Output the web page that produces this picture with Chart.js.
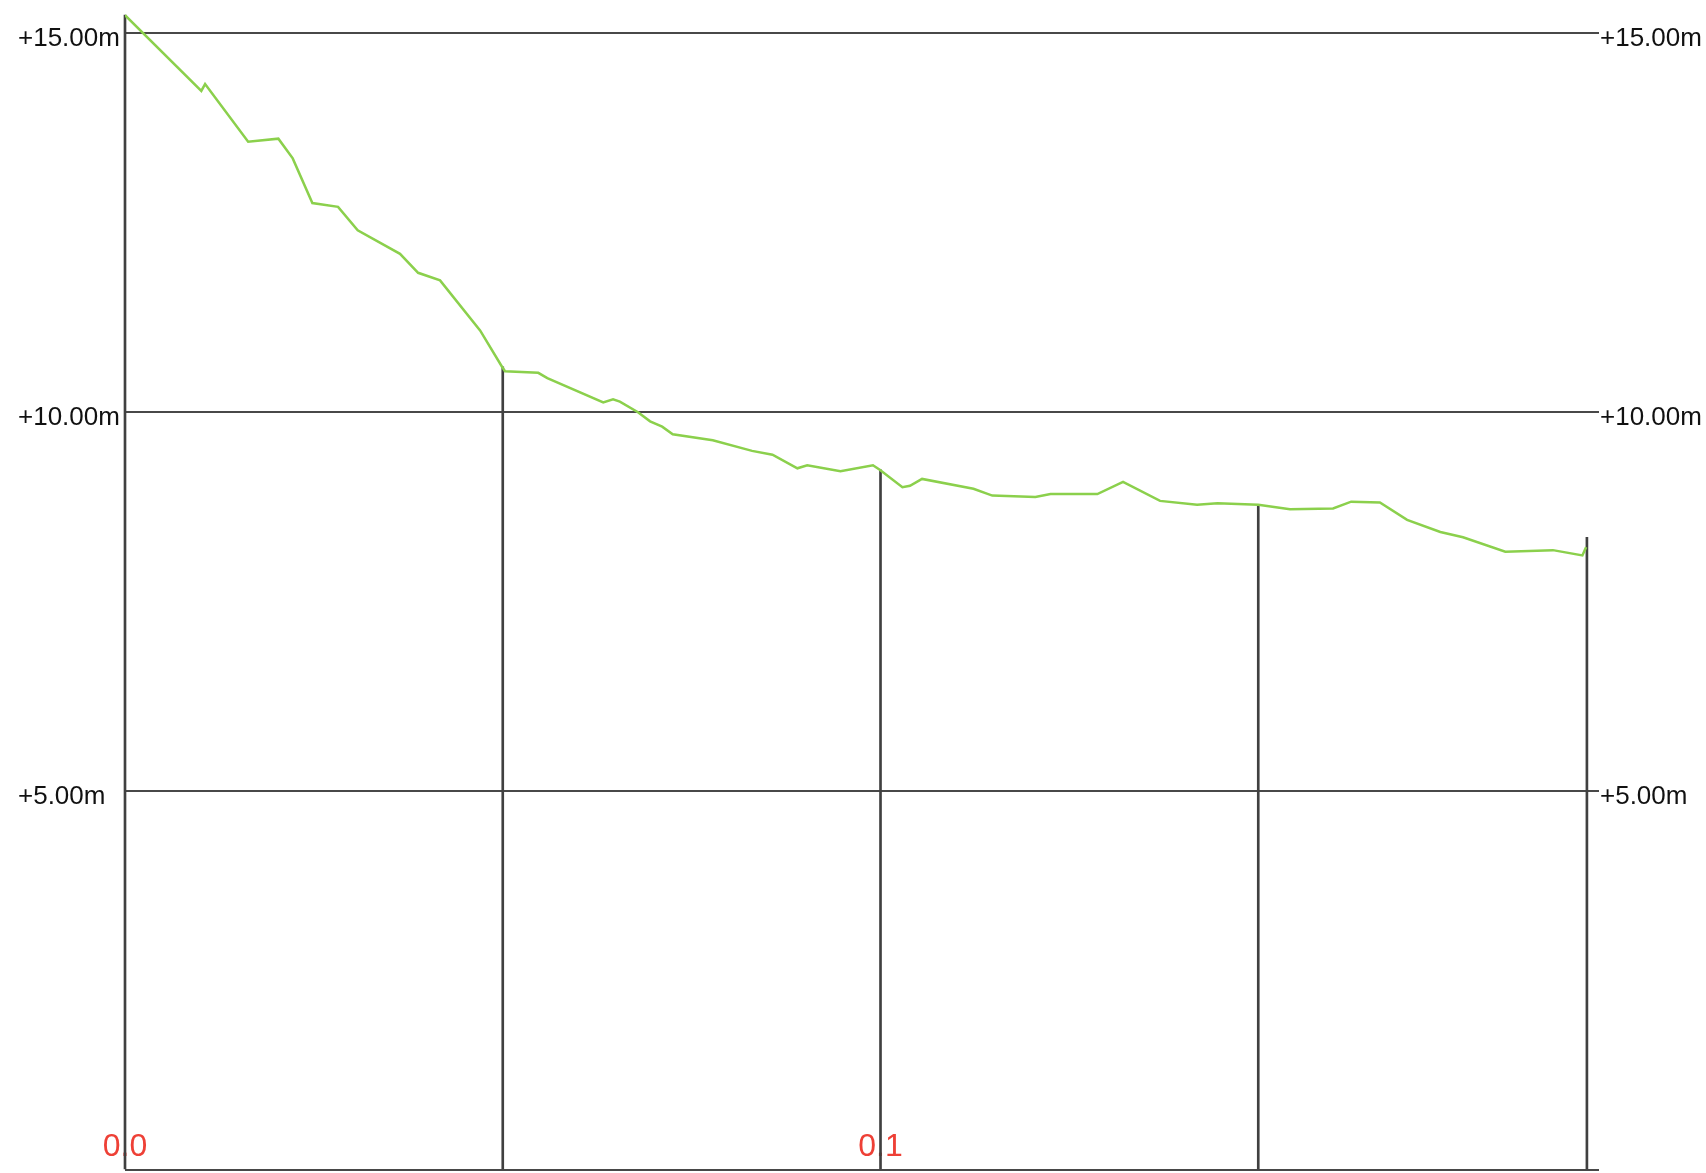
<!DOCTYPE html>
<html>
<head>
<meta charset="utf-8">
<script src="https://cdn.jsdelivr.net/npm/chart.js@4.4.1/dist/chart.umd.min.js"></script>
<style>
  html, body { margin: 0; padding: 0; background: #ffffff; }
  #wrap { position: relative; width: 1706px; height: 1173px; }
</style>
</head>
<body>
<div id="wrap"><canvas id="c"></canvas></div>
<script>
// Profile: distance along route (km) and elevation (m)
const distanceKm = [0, 0.0101, 0.0106, 0.0163, 0.0203, 0.0222, 0.0248, 0.0282, 0.0308, 0.0364, 0.0388, 0.0417, 0.0470, 0.0499, 0.0503, 0.0547, 0.0559, 0.0633, 0.0646, 0.0655, 0.0679, 0.0695, 0.0711, 0.0725, 0.0778, 0.0830, 0.0857, 0.0890, 0.0903, 0.0947, 0.0990, 0.0999, 0.1029, 0.1039, 0.1055, 0.1123, 0.1148, 0.1205, 0.1225, 0.1287, 0.1321, 0.1370, 0.1419, 0.1446, 0.1500, 0.1542, 0.1599, 0.1623, 0.1661, 0.1697, 0.1741, 0.1771, 0.1827, 0.1890, 0.1929, 0.1934];
const elevationM = [15.24, 14.24, 14.33, 13.57, 13.61, 13.35, 12.76, 12.71, 12.40, 12.09, 11.84, 11.74, 11.08, 10.60, 10.54, 10.52, 10.45, 10.13, 10.17, 10.14, 10.00, 9.88, 9.81, 9.71, 9.63, 9.49, 9.44, 9.26, 9.30, 9.22, 9.30, 9.24, 9.01, 9.03, 9.12, 8.99, 8.90, 8.88, 8.92, 8.92, 9.08, 8.83, 8.78, 8.80, 8.78, 8.72, 8.73, 8.82, 8.81, 8.58, 8.42, 8.35, 8.16, 8.18, 8.11, 8.22];

// Station drop lines (km) and the elevation where each line tops out (m)
const stationKm = [0, 0.05, 0.1, 0.15, 0.1935];
const stationTopM = [15.24, 10.60, 9.24, 8.78, 8.35];

// Axis settings
const yTicks = [0, 5, 10, 15];
const xLabelStepKm = 0.1;

const fmtY = v => (v === 0 ? '' : ['', '+' + v.toFixed(2) + 'm']);
const fmtX = v => {
  const r = Math.round(v / xLabelStepKm * 1000) / 1000;
  return Number.isInteger(r) ? v.toFixed(1) : '';
};

const profile = distanceKm.map((d, i) => ({ x: d, y: elevationM[i] }));
const stations = stationKm.map((d, i) => ({ x: d, y: stationTopM[i] }));

const font = "'Liberation Sans', Arial, Helvetica, sans-serif";
const noPad = s => { s.paddingTop = 0; s.paddingBottom = 0; s.paddingLeft = 0; s.paddingRight = 0; };

new Chart(document.getElementById('c'), {
  data: {
    datasets: [
      {
        type: 'line',
        data: profile,
        borderColor: '#8bd04c',
        borderWidth: 2.5,
        pointRadius: 0,
        tension: 0,
        yAxisID: 'y',
        order: 1
      },
      {
        type: 'bar',
        data: stations,
        backgroundColor: '#404040',
        barThickness: 2,
        grouped: false,
        clip: false,
        yAxisID: 'y',
        order: 2
      }
    ]
  },
  options: {
    responsive: true,
    maintainAspectRatio: false,
    animation: false,
    layout: { padding: { left: 18, right: 0, top: 0, bottom: 0 } },
    plugins: { legend: { display: false }, tooltip: { enabled: false } },
    scales: {
      x: {
        type: 'linear',
        min: 0,
        max: 0.1951,
        offset: false,
        grid: { display: false, drawTicks: false },
        border: { display: false },
        afterFit: s => { s.height = 3; noPad(s); },
        ticks: {
          stepSize: 0.05,
          includeBounds: false,
          autoSkip: false,
          maxRotation: 0,
          mirror: true,
          padding: 4,
          color: '#ee4036',
          font: { family: font, size: 32 },
          callback: v => fmtX(v)
        }
      },
      y: {
        type: 'linear',
        position: 'left',
        min: 0,
        max: 15.44,
        afterFit: s => { s.width = 107; noPad(s); },
        afterBuildTicks: s => { s.ticks = yTicks.map(v => ({ value: v })); },
        grid: { color: '#484848', lineWidth: 2, drawTicks: false },
        border: { display: false },
        ticks: {
          crossAlign: 'far',
          padding: 2,
          color: '#111111',
          font: { family: font, size: 26, lineHeight: 0.46 },
          callback: v => fmtY(v)
        }
      },
      y2: {
        type: 'linear',
        position: 'right',
        min: 0,
        max: 15.44,
        afterFit: s => { s.width = 107; noPad(s); },
        afterBuildTicks: s => { s.ticks = yTicks.map(v => ({ value: v })); },
        grid: { display: false, drawTicks: false },
        border: { display: false },
        ticks: {
          padding: 1,
          color: '#111111',
          font: { family: font, size: 26, lineHeight: 0.46 },
          callback: v => fmtY(v)
        }
      }
    }
  }
});
</script>
</body>
</html>
